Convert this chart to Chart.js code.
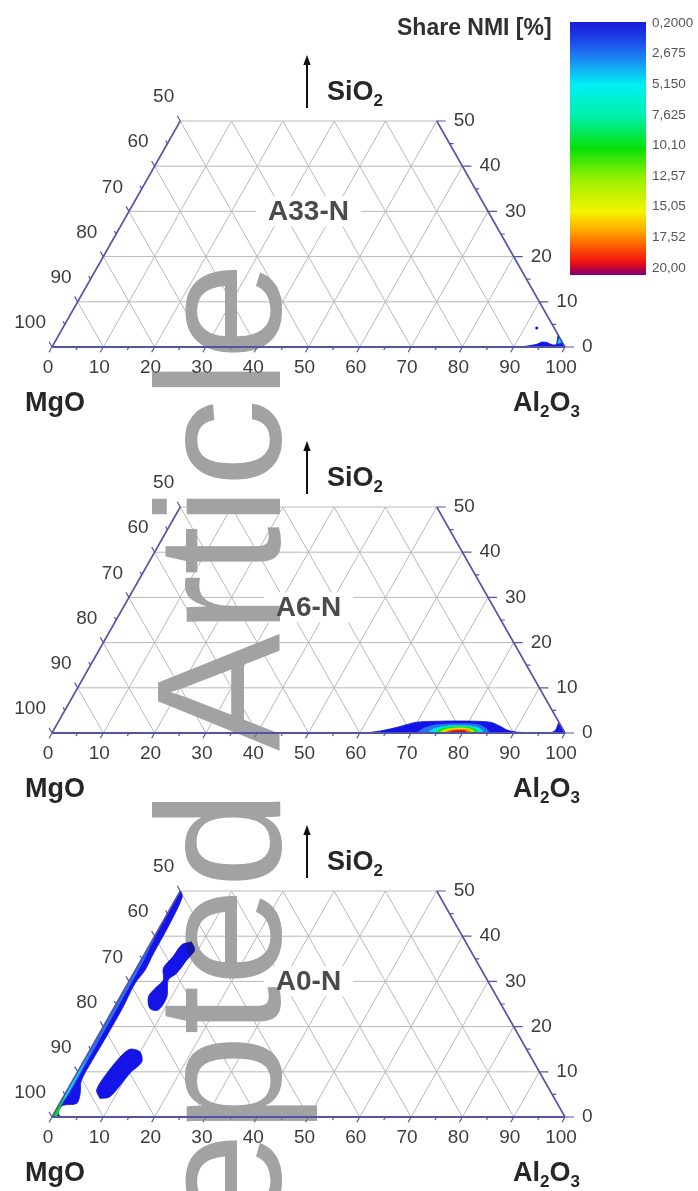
<!DOCTYPE html>
<html>
<head>
<meta charset="utf-8">
<script src="https://cdn.jsdelivr.net/npm/chart.js@4.4.1/dist/chart.umd.min.js"></script>
<style>
  html, body { margin: 0; padding: 0; background: #fff; }
  body { position: relative; width: 698px; height: 1191px; overflow: hidden; font-family: "Liberation Sans", Arial, sans-serif; }
  canvas { position: absolute; left: 0; }
  #wm {
    position: absolute; left: 131px; top: 1524px;
    font: 176px/176px "Liberation Sans", Arial, sans-serif;
    color: #a2a2a2; white-space: nowrap;
    transform-origin: 0 0; transform: rotate(-90deg);
    mix-blend-mode: darken; pointer-events: none;
  }
</style>
</head>
<body>
<canvas id="c1" width="698" height="420" style="top:0px"></canvas>
<canvas id="c2" width="698" height="395" style="top:420px"></canvas>
<canvas id="c3" width="698" height="376" style="top:815px"></canvas>
<div id="wm">Accepted Article</div>
<script>
// ---- axis ticks ----
const AL2O3_TICKS = [0, 10, 20, 30, 40, 50, 60, 70, 80, 90, 100];
const SIO2_TICKS = [0, 10, 20, 30, 40, 50];
const MGO_TICKS = [100, 90, 80, 70, 60, 50];

// ---- colour scale: share of NMI [%] ----
const LEVELS = [0.2, 2.675, 5.15, 7.625, 10.1, 12.57, 15.05, 17.52, 20.0];
const LEVEL_TEXT = ['0,2000', '2,675', '5,150', '7,625', '10,10', '12,57', '15,05', '17,52', '20,00'];
const LEVEL_COLORS = ['#1414e6', '#2a72f2', '#00e2f2', '#00eea6', '#0cdc0c', '#9cee00', '#f2f200', '#ff7a00', '#c8141c'];
const SCALE_VALUES = [0.2, 1.4, 2.675, 5.15, 7.625, 10.1, 12.57, 15.05, 16.4, 17.52, 19.0, 19.7, 20.0];
const SCALE_COLORS = ['#1a1ad6', '#1c3ee8', '#1e74f2', '#00f0f4', '#00f0a8', '#08e008', '#9cf000', '#f4f400', '#ffb000', '#ff6a00', '#f01010', '#a00050', '#800080'];

// ---- contour outlines, [Al2O3 %, SiO2 %] (MgO = rest) ----
// A33-N
const A33_L0 = [[91.5,0],[92.85,0.3],[94.2,0.6],[94.95,1.1],[96,1.0],[97.25,0.5],[98,0.6],[97.4,2.6],[99.2,0.8],[100,0]];
const A33_L2 = [[98.2,0.8],[97.95,1.9],[98.7,1.0]];
const A33_SPOT = [[92.4,4.2]];

// A6-N
const A6_L0 = [[61,0],[63.8,0.45],[66.6,1.25],[68.3,1.9],[69.9,2.4],[73.7,2.6],[78.7,2.65],[84.2,2.4],[86.5,1.55],[88.4,0.65],[90.5,0.2],[94,0]];
const A6_L1 = [[71.2,0],[71.9,1.0],[74.0,1.8],[78.0,2.05],[82.2,1.85],[84.1,1.0],[85.2,0]];
const A6_L2 = [[73.2,0],[73.9,0.9],[76.3,1.55],[79.8,1.6],[82.7,1.1],[84,0]];
const A6_L3 = [[74.2,0],[74.8,0.85],[76.9,1.38],[79.9,1.42],[82.3,0.95],[83.5,0]];
const A6_L4 = [[74.8,0],[75.4,0.8],[77.4,1.25],[80,1.25],[82,0.8],[83,0]];
const A6_L5 = [[75.4,0],[76,0.7],[77.9,1.1],[80.1,1.1],[81.7,0.65],[82.5,0]];
const A6_L6 = [[75.9,0],[76.5,0.62],[78.1,0.95],[80.1,0.95],[81.4,0.55],[82,0]];
const A6_L7 = [[76.3,0],[77,0.55],[78.6,0.8],[80.3,0.78],[81.3,0.45],[81.9,0]];
const A6_L8 = [[77.0,0],[77.7,0.4],[79.1,0.55],[80.3,0.48],[81.0,0]];
const A6_CORNER = [[97.3,0],[97.85,0.7],[97.7,2.2],[99.2,0.8],[100,0]];

// A0-N
const A0_EDGE_L0 = [[0,0],[0,50],[1.1,48.5],[1.6,42],[1.7,36],[1.9,32.5],[1.4,29.5],[1.7,24],[1.7,18],[1.6,12.5],[1.7,8],[2.9,5.2],[3.3,3.0],[0.9,2.6],[0.6,1.2],[1.2,0.4],[1.8,0]];
const A0_EDGE_L1 = [[0,4],[0,40],[0.5,35],[0.6,25],[0.65,15],[0.7,8],[0.55,4]];
const A0_EDGE_L2 = [[0,1.5],[0,15],[0.4,10],[0.45,5],[0.35,2]];
const A0_EDGE_L3 = [[0,0],[0,5],[0.45,2.8],[0.75,0.8],[0.8,0]];
const A0_UPPER = [[7.8,38.8],[9.4,36.9],[8.9,34.7],[8.4,31.8],[7.5,30.3],[9.1,26.6],[8.9,23.7],[7.1,24.0],[5.5,26.6],[6.0,28.8],[6.55,30.3],[5.25,32.9],[5.85,35.5],[6.25,38.1]];
const A0_LOWER = [[7.3,4.1],[9.05,4.5],[10.35,9.7],[11.4,12.2],[9.95,14.4],[7.7,15.0],[6.65,13.3],[5.85,9.7],[5.7,6.0]];

const PANELS = [
  { canvas: 'c1', name: 'A33-N', nameShift: 0, padTop: 121, padBottom: 73, colorBar: true,
    shapes: [[A33_L0, 0], [A33_L2, 2]], spots: A33_SPOT },
  { canvas: 'c2', name: 'A6-N', nameShift: 10, padTop: 87, padBottom: 82, colorBar: false,
    shapes: [[A6_L0, 0], [A6_L1, 1], [A6_L2, 2], [A6_L3, 3], [A6_L4, 4], [A6_L5, 5], [A6_L6, 6], [A6_L7, 7], [A6_L8, 8], [A6_CORNER, 0]], spots: [] },
  { canvas: 'c3', name: 'A0-N', nameShift: 0, padTop: 76, padBottom: 74, colorBar: false,
    shapes: [[A0_EDGE_L0, 0], [A0_EDGE_L1, 1], [A0_EDGE_L2, 2], [A0_EDGE_L3, 4], [A0_UPPER, 0], [A0_LOWER, 0]], spots: [] }
];

// ternary projection: x = Al2O3 + SiO2/2, y = SiO2
const toXY = ([al, si]) => ({ x: al + si / 2, y: si });

const FONT = '"Liberation Sans", Arial, sans-serif';
const EDGE = '#5454a6';
const GRID = '#b9b9b9';
const LABEL = '#3d3d3d';

function pix(chart, al, si) {
  return [chart.scales.x.getPixelForValue(al + si / 2), chart.scales.y.getPixelForValue(si)];
}
function seg(ctx, a, b) { ctx.moveTo(a[0], a[1]); ctx.lineTo(b[0], b[1]); }
function unit(a, b) { const dx = b[0] - a[0], dy = b[1] - a[1], l = Math.hypot(dx, dy); return [dx / l, dy / l]; }

// text with subscript digits, e.g. "Al2O3"
function chemText(ctx, parts, x, y, size, align) {
  const big = 'bold ' + size + 'px ' + FONT, small = 'bold ' + Math.round(size * 0.62) + 'px ' + FONT;
  let w = 0;
  for (const [t, sub] of parts) { ctx.font = sub ? small : big; w += ctx.measureText(t).width; }
  let cx = align === 'right' ? x - w : x;
  ctx.textAlign = 'left'; ctx.textBaseline = 'alphabetic';
  for (const [t, sub] of parts) {
    ctx.font = sub ? small : big;
    ctx.fillText(t, cx, sub ? y + size * 0.24 : y);
    cx += ctx.measureText(t).width;
  }
}

const ternaryFrame = {
  id: 'ternaryFrame',
  beforeDatasetsDraw(chart) {
    const ctx = chart.ctx;
    const P = (a, s) => pix(chart, a, s);
    ctx.save();
    ctx.strokeStyle = GRID; ctx.lineWidth = 1;
    ctx.beginPath();
    for (let s = 10; s <= 50; s += 10) seg(ctx, P(0, s), P(100 - s, s));
    for (let a = 10; a <= 90; a += 10) seg(ctx, P(a, 0), P(a, Math.min(50, 100 - a)));
    for (let m = 10; m <= 90; m += 10) { const b = 100 - m, t = Math.min(50, b); seg(ctx, P(b, 0), P(b - t, t)); }
    ctx.stroke();
    ctx.restore();
    // keep the contours inside the trapezoid
    ctx.save();
    ctx.beginPath();
    const c = [P(0, 0), P(100, 0), P(50, 50), P(0, 50)];
    ctx.moveTo(c[0][0], c[0][1]); for (let i = 1; i < 4; i++) ctx.lineTo(c[i][0], c[i][1]);
    ctx.closePath(); ctx.clip();
  },
  afterDatasetsDraw(chart, args, opts) {
    const ctx = chart.ctx;
    ctx.restore();
    const P = (a, s) => pix(chart, a, s);
    const base = P(0, 0)[1], top = P(0, 50)[1];

    // frame edges
    ctx.save();
    ctx.strokeStyle = EDGE; ctx.lineWidth = 1.6;
    ctx.beginPath();
    seg(ctx, P(0, 0), P(0, 50));
    seg(ctx, P(100, 0), P(50, 50));
    ctx.stroke();
    ctx.lineWidth = 2;
    ctx.beginPath(); seg(ctx, P(0, 0), P(100, 0)); ctx.stroke();

    // ticks
    ctx.lineWidth = 1.2;
    ctx.beginPath();
    for (let v = 0; v <= 100; v += 5) {           // Al2O3 (bottom)
      const o = P(v, 0), d = unit(o, P(v, -1)), L = v % 10 === 0 ? 6 : 3.5;
      seg(ctx, o, [o[0] + d[0] * L, o[1] + d[1] * L]);
    }
    for (let s = 0; s <= 50; s += 5) {            // SiO2 (right) and MgO (left)
      const r = P(100 - s, s), Lr = s % 10 === 0 ? 9 : 4;
      seg(ctx, r, [r[0] + Lr, r[1]]);
      const l = P(0, s), d = unit(l, P(-1, s + 1)), Ll = s % 10 === 0 ? 6 : 3.5;
      seg(ctx, l, [l[0] + d[0] * Ll, l[1] + d[1] * Ll]);
    }
    ctx.stroke();

    // tick labels
    ctx.fillStyle = LABEL;
    ctx.font = '19px ' + FONT;
    ctx.textBaseline = 'middle';
    ctx.textAlign = 'center';
    for (const v of AL2O3_TICKS) { const p = P(v, 0); ctx.fillText(String(v), p[0] - 4, base + 21); }
    ctx.textAlign = 'left';
    for (const s of SIO2_TICKS) { const p = P(100 - s, s); ctx.fillText(String(s), p[0] + 17, p[1]); }
    ctx.textAlign = 'right';
    for (const m of MGO_TICKS) { const p = P(0, 100 - m); ctx.fillText(String(m), p[0] - 6, p[1] - 24); }

    // panel name on a white patch
    ctx.font = 'bold 28px ' + FONT;
    const nm = opts.name, w = ctx.measureText(nm).width;
    const cx = P(35, 30)[0], cy = P(0, 30)[1] + opts.nameShift;
    ctx.fillStyle = '#fff';
    ctx.fillRect(cx - w / 2 - 12, cy - 15, w + 24, 30);
    ctx.fillStyle = '#4b4b4b';
    ctx.textAlign = 'center';
    ctx.fillText(nm, cx, cy + 1);

    // component labels
    ctx.fillStyle = '#262626';
    chemText(ctx, [['MgO', false]], 25, base + 64, 27, 'left');
    chemText(ctx, [['Al', false], ['2', true], ['O', false], ['3', true]], 580, base + 64, 27, 'right');
    chemText(ctx, [['SiO', false], ['2', true]], 327, top - 21, 27, 'left');

    // SiO2 direction arrow
    ctx.strokeStyle = '#111'; ctx.fillStyle = '#111'; ctx.lineWidth = 2;
    ctx.beginPath(); ctx.moveTo(307, top - 13); ctx.lineTo(307, top - 58); ctx.stroke();
    ctx.beginPath(); ctx.moveTo(307, top - 66); ctx.lineTo(303.3, top - 56); ctx.lineTo(310.7, top - 56); ctx.closePath(); ctx.fill();
    ctx.restore();
  },
  afterDraw(chart, args, opts) {
    if (!opts.colorBar) return;
    const ctx = chart.ctx;
    const x0 = 570, x1 = 646, y0 = 22, y1 = 275;
    const lo = LEVELS[0], hi = LEVELS[LEVELS.length - 1];
    ctx.save();
    const g = ctx.createLinearGradient(0, y0, 0, y1);
    SCALE_VALUES.forEach((v, i) => g.addColorStop((v - lo) / (hi - lo), SCALE_COLORS[i]));
    ctx.fillStyle = g;
    ctx.fillRect(x0, y0, x1 - x0, y1 - y0);
    ctx.fillStyle = '#555';
    ctx.font = '13.5px ' + FONT;
    ctx.textAlign = 'left'; ctx.textBaseline = 'middle';
    LEVELS.forEach((v, i) => ctx.fillText(LEVEL_TEXT[i], 652, 23 + (v - lo) / (hi - lo) * 245));
    ctx.fillStyle = '#303030';
    ctx.font = 'bold 23px ' + FONT;
    ctx.textBaseline = 'alphabetic';
    ctx.fillText('Share NMI [%]', 397, 35);
    ctx.restore();
  }
};

PANELS.forEach(panel => {
  const datasets = panel.shapes.map(([pts, lvl]) => {
    const data = pts.map(toXY);
    data.push(data[0]);
    return {
      data, showLine: true, fill: 'shape', tension: 0.3,
      backgroundColor: LEVEL_COLORS[lvl], borderColor: LEVEL_COLORS[lvl], borderWidth: 0.8,
      pointRadius: 0, order: 20 - lvl
    };
  });
  if (panel.spots.length) {
    datasets.push({ data: panel.spots.map(toXY), showLine: false, pointRadius: 1.6,
      pointBackgroundColor: LEVEL_COLORS[0], pointBorderWidth: 0, order: 0 });
  }
  new Chart(document.getElementById(panel.canvas), {
    type: 'scatter',
    data: { datasets },
    options: {
      responsive: false, animation: false, devicePixelRatio: 1, events: [],
      layout: { padding: { left: 52, right: 133, top: panel.padTop, bottom: panel.padBottom } },
      scales: {
        x: { type: 'linear', min: 0, max: 100, display: false },
        y: { type: 'linear', min: 0, max: 50, display: false }
      },
      plugins: {
        legend: { display: false }, tooltip: { enabled: false },
        ternaryFrame: { name: panel.name, nameShift: panel.nameShift, colorBar: panel.colorBar }
      }
    },
    plugins: [ternaryFrame]
  });
});
</script>
</body>
</html>
